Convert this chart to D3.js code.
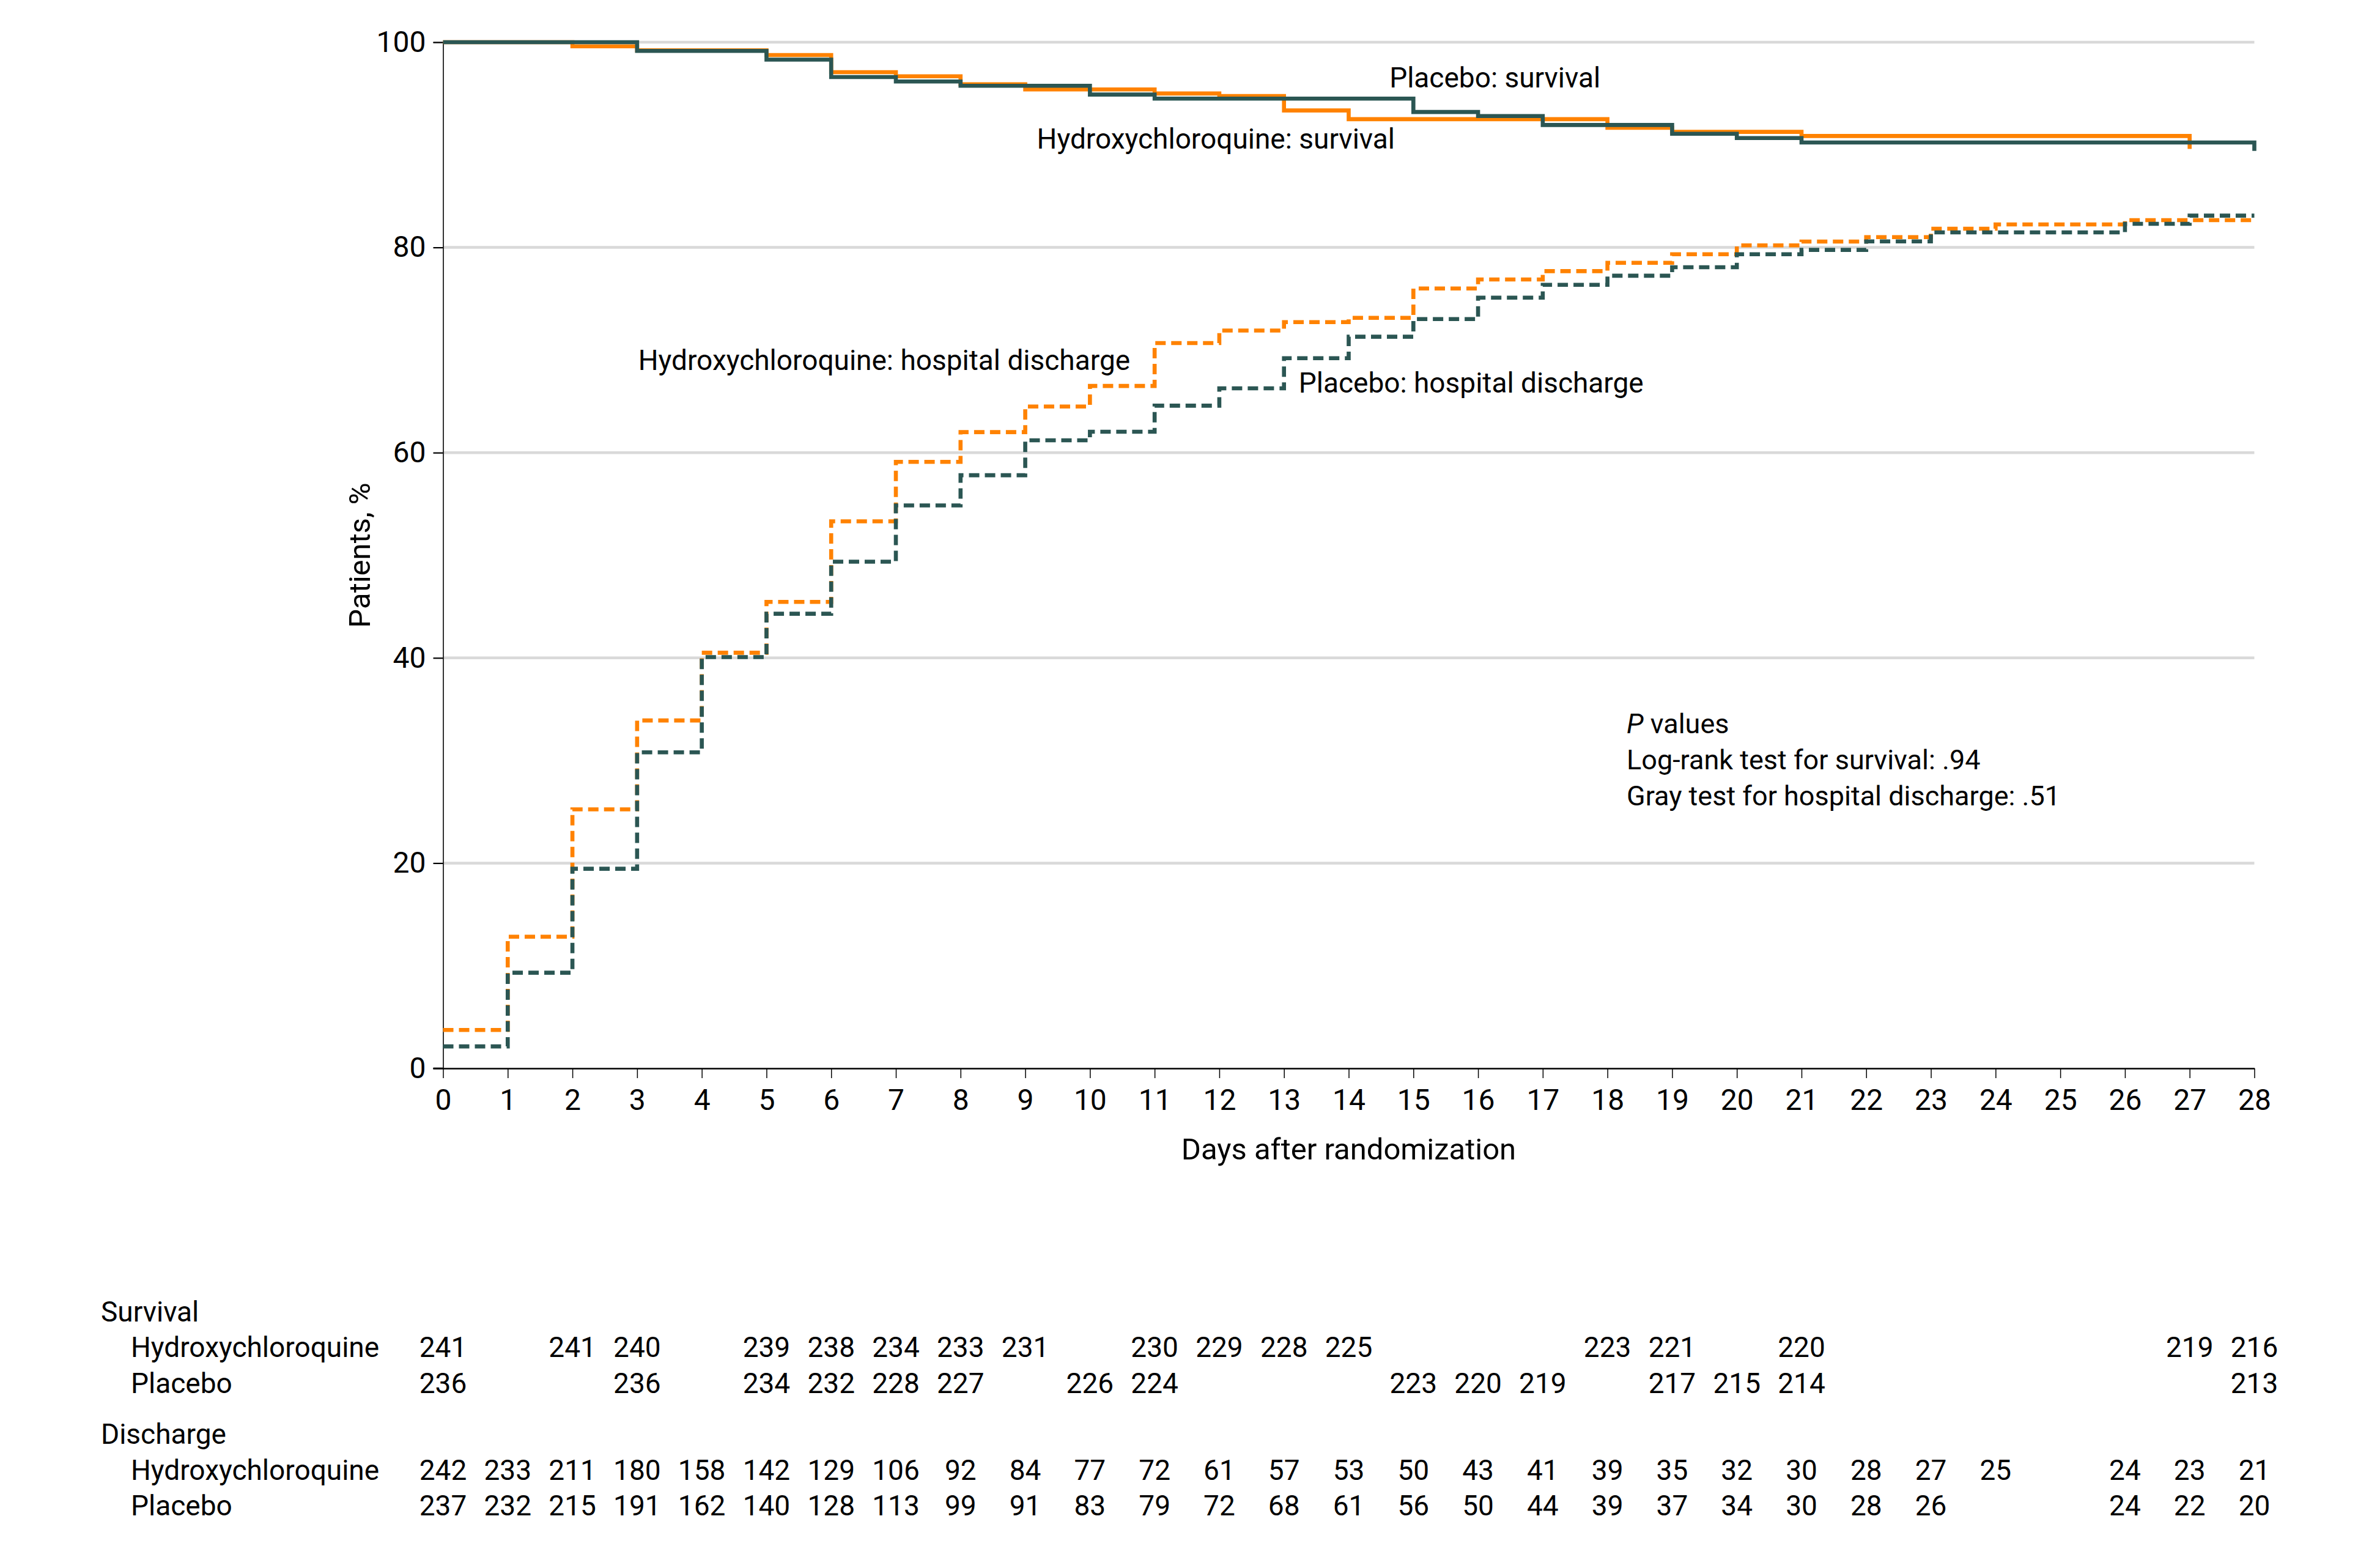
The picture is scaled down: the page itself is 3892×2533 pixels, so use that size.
<!DOCTYPE html>
<html>
<head>
<meta charset="utf-8">
<script src="https://cdn.jsdelivr.net/npm/d3@7"></script>
<style>
  html, body { margin: 0; padding: 0; background: #fff; }
  svg { display: block; font-family: Roboto, "Liberation Sans", sans-serif; }
</style>
</head>
<body>
<div id="chart"></div>
<script>
// ---------------- DATA ----------------
const days = d3.range(0, 29);
const yTicks = [0, 20, 40, 60, 80, 100];

// Survival curves: [day, percent]; last point is the terminal drop
const survHcq = [[0,100],[2,99.6],[3,99.2],[5,98.75],[6,97.08],[7,96.68],[8,95.9],[9,95.4],[11,95.0],[12,94.75],[13,93.35],[14,92.5],[18,91.66],[19,91.26],[21,90.86],[27,89.6]];
const survPlac = [[0,100],[3,99.15],[5,98.3],[6,96.6],[7,96.17],[8,95.75],[10,94.9],[11,94.5],[15,93.2],[16,92.8],[17,91.93],[19,91.08],[20,90.66],[21,90.23],[28,89.4]];

// Cumulative hospital discharge: [day, percent]
const dischHcq = [[0,3.74],[1,12.83],[2,25.24],[3,33.9],[4,40.5],[5,45.46],[6,53.31],[7,59.1],[8,62.0],[9,64.5],[10,66.5],[11,70.68],[12,71.9],[13,72.72],[14,73.14],[15,76.0],[16,76.88],[17,77.69],[18,78.5],[19,79.34],[20,80.2],[21,80.57],[22,81.0],[23,81.82],[24,82.24],[26,82.66],[28,82.66]];
const dischPlac = [[0,2.14],[1,9.32],[2,19.45],[3,30.8],[4,40.08],[5,44.3],[6,49.37],[7,54.86],[8,57.8],[9,61.2],[10,62.04],[11,64.58],[12,66.27],[13,69.2],[14,71.3],[15,73.02],[16,75.1],[17,76.36],[18,77.24],[19,78.07],[20,79.34],[21,79.76],[22,80.59],[23,81.47],[26,82.3],[27,83.1],[28,83.1]];

// Numbers at risk, indexed by day 0..28 (null = blank)
const riskSurvHcq  = [241,null,241,240,null,239,238,234,233,231,null,230,229,228,225,null,null,null,223,221,null,220,null,null,null,null,null,219,216];
const riskSurvPlac = [236,null,null,236,null,234,232,228,227,null,226,224,null,null,null,223,220,219,null,217,215,214,null,null,null,null,null,null,213];
const riskDischHcq  = [242,233,211,180,158,142,129,106,92,84,77,72,61,57,53,50,43,41,39,35,32,30,28,27,25,null,24,23,21];
const riskDischPlac = [237,232,215,191,162,140,128,113,99,91,83,79,72,68,61,56,50,44,39,37,34,30,28,26,null,null,24,22,20];

const curveLabels = [
  { text: "Placebo: survival", day: 14.63, value: 95.59 },
  { text: "Hydroxychloroquine: survival", day: 9.18, value: 89.63 },
  { text: "Hydroxychloroquine: hospital discharge", day: 3.018, value: 68.05 },
  { text: "Placebo: hospital discharge", day: 13.227, value: 65.85 }
];
const pValueLines = ["values", "Log-rank test for survival: .94", "Gray test for hospital discharge: .51"];

// ---------------- LAYOUT ----------------
const W = 3892, H = 2533;
const ORANGE = "#ff8200", TEAL = "#2b5653";
const x = d3.scaleLinear().domain([0, 28]).range([724.5, 3686.5]);
const y = d3.scaleLinear().domain([0, 100]).range([1747, 69]);

const svg = d3.select("#chart").append("svg")
  .attr("width", W).attr("height", H).attr("viewBox", `0 0 ${W} ${H}`);
svg.append("rect").attr("width", W).attr("height", H).attr("fill", "#fff");

// gridlines
svg.append("g").selectAll("line").data(yTicks.filter(d => d > 0)).join("line")
  .attr("x1", x(0)).attr("x2", x(28))
  .attr("y1", d => y(d)).attr("y2", d => y(d))
  .attr("stroke", "#d9d9d9").attr("stroke-width", 4.5);

// y axis
const yAxis = svg.append("g").attr("transform", `translate(${x(0)},0)`)
  .call(d3.axisLeft(y).tickValues(yTicks).tickSize(16).tickPadding(12));
yAxis.select(".domain").attr("stroke", "#000").attr("stroke-width", 1.6);
yAxis.selectAll(".tick line").attr("stroke", "#000").attr("stroke-width", 2.2);
yAxis.selectAll(".tick text").attr("font-size", 48).attr("fill", "#000")
  .attr("font-family", "Roboto, sans-serif");

// x axis
const xAxis = svg.append("g").attr("transform", `translate(0,${y(0)})`)
  .call(d3.axisBottom(x).tickValues(days).tickSize(16).tickPadding(18).tickSizeOuter(0));
xAxis.select(".domain").attr("stroke", "#000").attr("stroke-width", 2.6);
xAxis.selectAll(".tick line").attr("stroke", "#000").attr("stroke-width", 1.5);
xAxis.selectAll(".tick text").attr("font-size", 48).attr("fill", "#000")
  .attr("font-family", "Roboto, sans-serif");
// extend baseline left to meet the y tick
svg.append("line").attr("x1", x(0) - 16).attr("x2", x(0)).attr("y1", y(0)).attr("y2", y(0))
  .attr("stroke", "#000").attr("stroke-width", 2.6);

// axis titles
svg.append("text").attr("x", (x(0) + x(28)) / 2).attr("y", 1896)
  .attr("text-anchor", "middle").attr("font-size", 49).text("Days after randomization");
svg.append("text").attr("transform", `translate(605,${(y(0) + y(100)) / 2}) rotate(-90)`)
  .attr("text-anchor", "middle").attr("font-size", 49).text("Patients, %");

// curves
const line = d3.line().x(d => x(d[0])).y(d => y(d[1])).curve(d3.curveStepAfter);
const curves = [
  { data: dischHcq, color: ORANGE, dash: "17,9" },
  { data: dischPlac, color: TEAL, dash: "17,9" },
  { data: survHcq, color: ORANGE, dash: null },
  { data: survPlac, color: TEAL, dash: null }
];
svg.append("g").selectAll("path").data(curves).join("path")
  .attr("d", d => line(d.data))
  .attr("fill", "none")
  .attr("stroke", d => d.color)
  .attr("stroke-width", 6.6)
  .attr("stroke-linejoin", "miter")
  .attr("stroke-dasharray", d => d.dash);

// curve labels
svg.append("g").selectAll("text").data(curveLabels).join("text")
  .attr("x", d => x(d.day)).attr("y", d => y(d.value))
  .attr("font-size", 46).attr("fill", "#000").text(d => d.text);

// P values block
const pv = svg.append("g").attr("font-size", 45);
const pFirst = pv.append("text").attr("x", 2660).attr("y", 1199);
pFirst.append("tspan").attr("font-style", "italic").text("P");
pFirst.append("tspan").text(" " + pValueLines[0]);
pv.append("text").attr("x", 2660).attr("y", 1258).text(pValueLines[1]);
pv.append("text").attr("x", 2660).attr("y", 1317).text(pValueLines[2]);

// numbers at risk table
const table = svg.append("g").attr("font-size", 46).attr("fill", "#000");
const rows = [
  { head: "Survival", y: 2161 },
  { label: "Hydroxychloroquine", y: 2219, values: riskSurvHcq },
  { label: "Placebo", y: 2278, values: riskSurvPlac },
  { head: "Discharge", y: 2361 },
  { label: "Hydroxychloroquine", y: 2420, values: riskDischHcq },
  { label: "Placebo", y: 2478, values: riskDischPlac }
];
rows.forEach(r => {
  if (r.head) {
    table.append("text").attr("x", 165).attr("y", r.y).text(r.head);
  } else {
    table.append("text").attr("x", 214).attr("y", r.y).text(r.label);
    table.append("g").selectAll("text")
      .data(r.values.map((v, i) => ({ v, i })).filter(d => d.v !== null))
      .join("text")
      .attr("x", d => x(d.i)).attr("y", r.y)
      .attr("text-anchor", "middle").text(d => d.v);
  }
});
</script>
</body>
</html>
